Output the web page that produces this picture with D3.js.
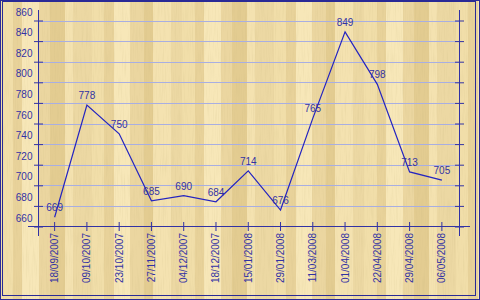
<!DOCTYPE html>
<html>
<head>
<meta charset="utf-8">
<script src="https://cdn.jsdelivr.net/npm/d3@7"></script>
<style>
  body { margin: 0; background: #fff; }
  svg { display: block; font-family: "Liberation Sans", Arial, sans-serif; }
</style>
</head>
<body>
<div id="chart"></div>
<script>
// data
const dates = ['18/09/2007', '09/10/2007', '23/10/2007', '27/11/2007', '04/12/2007', '18/12/2007',
  '15/01/2008', '29/01/2008', '11/03/2008', '01/04/2008', '22/04/2008', '29/04/2008', '06/05/2008'];
const values = [669, 778, 750, 685, 690, 684, 714, 676, 765, 849, 798, 713, 705];
const yTicks = [660, 680, 700, 720, 740, 760, 780, 800, 820, 840, 860];

// wood background planks (decoration only)
const plankWidths = [13, 9, 17, 11, 15, 8, 19, 12, 10, 16, 14, 9, 18, 11];
const plankShades = ['#f1dea9', '#e8d29a', '#f7e7b8', '#ebd6a0', '#e3cc91', '#f4e2b0', '#ecd8a3'];

const width = 480, height = 300;
const ink = '#3232a4';

const svg = d3.select('#chart').append('svg')
  .attr('width', width)
  .attr('height', height);

// wood grain filter
const defs = svg.append('defs');
const grain = defs.append('filter').attr('id', 'grain')
  .attr('x', 0).attr('y', 0).attr('width', 1).attr('height', 1);
grain.append('feTurbulence')
  .attr('type', 'fractalNoise')
  .attr('baseFrequency', '0.9 0.04')
  .attr('numOctaves', 2)
  .attr('seed', 3);
grain.append('feColorMatrix')
  .attr('values', '0 0 0 0 0.55  0 0 0 0 0.45  0 0 0 0 0.2  0 0 0 -1.4 0.75');

// planks
let px = 0, i = 0;
const planks = [];
while (px < width) {
  planks.push({ x: px, w: plankWidths[i % plankWidths.length], c: plankShades[i % plankShades.length] });
  px += plankWidths[i % plankWidths.length];
  i++;
}
svg.append('g').selectAll('rect')
  .data(planks)
  .enter()
  .append('rect')
  .attr('x', d => d.x)
  .attr('y', 0)
  .attr('width', d => d.w)
  .attr('height', height)
  .attr('fill', d => d.c);
svg.append('rect')
  .attr('width', width).attr('height', height)
  .attr('filter', 'url(#grain)')
  .attr('opacity', 0.28);

// scales
const x = d3.scaleBand()
  .domain(dates)
  .range([38.5, 458]);
const cx = d => x(d) + x.bandwidth() / 2;

const y = d3.scaleLinear()
  .domain([660, 860])
  .range([226.5, 20.5]);

const left = 38.5, right = 459.5, bottom = 226.5;

// gridlines
svg.append('g').selectAll('line')
  .data(yTicks.filter(t => t > 660))
  .enter()
  .append('line')
  .attr('x1', left).attr('x2', right)
  .attr('y1', d => Math.round(y(d)) + 0.5)
  .attr('y2', d => Math.round(y(d)) + 0.5)
  .attr('stroke', '#a8aee2')
  .attr('stroke-width', 1);

// left axis
const yAxis = svg.append('g')
  .attr('transform', `translate(${left},0)`)
  .call(d3.axisLeft(y).tickValues(yTicks).tickSize(0).tickFormat(d3.format('d')));
yAxis.select('.domain').remove();
yAxis.selectAll('.tick line')
  .attr('x1', -4.5).attr('x2', 4.5)
  .attr('stroke', ink);
yAxis.selectAll('.tick text')
  .attr('x', -6)
  .attr('dy', -5.5)
  .attr('fill', ink)
  .style('font-size', '10px')
  .style('font-family', '"Liberation Sans", Arial, sans-serif');

// right axis (ticks only)
const yAxisR = svg.append('g')
  .attr('transform', `translate(${right},0)`)
  .call(d3.axisRight(y).tickValues(yTicks).tickSize(0).tickFormat(''));
yAxisR.select('.domain').remove();
yAxisR.selectAll('.tick line')
  .attr('x1', -4.5).attr('x2', 4.5)
  .attr('stroke', ink);

// axis lines, they run past the plot a bit
svg.append('line').attr('x1', left).attr('x2', left).attr('y1', 10).attr('y2', 236).attr('stroke', ink);
svg.append('line').attr('x1', right).attr('x2', right).attr('y1', 10).attr('y2', 236).attr('stroke', ink);
svg.append('line').attr('x1', 28).attr('x2', 470).attr('y1', bottom).attr('y2', bottom).attr('stroke', ink);

// x axis ticks + rotated labels
const xAxis = svg.append('g')
  .attr('transform', `translate(0,${bottom})`)
  .call(d3.axisBottom(x).tickSize(0));
xAxis.select('.domain').remove();
xAxis.selectAll('.tick line')
  .attr('y1', -4.5).attr('y2', 4.5)
  .attr('stroke', ink);
xAxis.selectAll('.tick text')
  .attr('transform', 'rotate(-90)')
  .attr('x', -6.5)
  .attr('y', 0)
  .attr('dy', '0.35em')
  .attr('text-anchor', 'end')
  .attr('fill', ink)
  .style('font-size', '10px')
  .style('font-family', '"Liberation Sans", Arial, sans-serif');

// the series line
const line = d3.line()
  .x((d, j) => cx(dates[j]))
  .y(d => y(d));

svg.append('path')
  .datum(values)
  .attr('d', line)
  .attr('fill', 'none')
  .attr('stroke', '#2424c0')
  .attr('stroke-width', 1.2);

// value labels
svg.append('g').selectAll('text')
  .data(values)
  .enter()
  .append('text')
  .attr('x', (d, j) => cx(dates[j]))
  .attr('y', d => y(d) - 6)
  .attr('text-anchor', 'middle')
  .attr('fill', ink)
  .style('font-size', '10px')
  .text(d => d);

// double frame
svg.append('rect')
  .attr('x', 0.5).attr('y', 0.5)
  .attr('width', width - 1).attr('height', height - 1)
  .attr('fill', 'none').attr('stroke', '#2a2a96');
svg.append('rect')
  .attr('x', 2.5).attr('y', 1.5)
  .attr('width', 473).attr('height', 294)
  .attr('fill', 'none').attr('stroke', '#2a2a96');
</script>
</body>
</html>
